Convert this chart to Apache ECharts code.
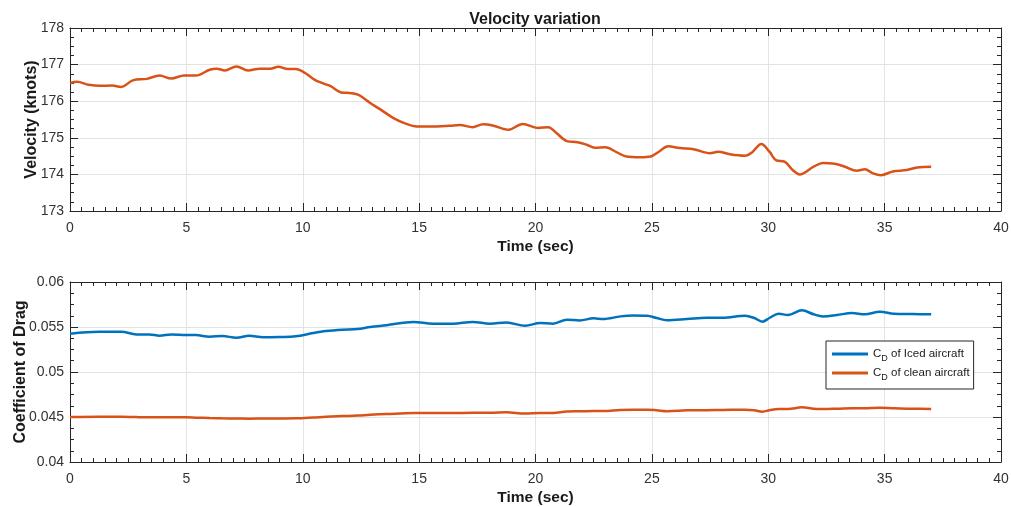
<!DOCTYPE html>
<html>
<head>
<meta charset="utf-8">
<script src="https://cdn.jsdelivr.net/npm/echarts@6/dist/echarts.min.js"></script>
<style>
  html, body { margin: 0; padding: 0; background: #fff; }
  #chart { width: 1011px; height: 507px; }
</style>
</head>
<body>
<div id="chart"></div>
<script>
// Velocity time history (sec, knots)
const velTime = [0, 0.3, 0.8, 1.3, 1.8, 2.2, 2.7, 3.3, 3.85, 4.35, 4.9, 5.4, 6.0, 6.3, 6.65, 7.15, 7.65, 8.15, 8.6, 8.95,
  9.35, 9.7, 10.1, 10.5, 10.9, 11.2, 11.65, 12.1, 12.4, 12.9, 13.3, 13.9, 14.45, 14.9, 15.6, 16.3, 16.75, 17.3, 17.75, 18.2,
  18.85, 19.45, 20.1, 20.55, 20.9, 21.35, 21.8, 22.2, 22.55, 23.0, 23.5, 23.9, 24.5, 24.95, 25.3, 25.7, 26.2, 26.8, 27.5, 27.85,
  28.35, 29.0, 29.3, 29.7, 30.05, 30.35, 30.7, 31.05, 31.35, 31.95, 32.35, 32.85, 33.3, 33.8, 34.15, 34.5, 34.85, 35.35, 35.95, 36.4, 37.0];
const velocity = [176.50, 176.53, 176.45, 176.42, 176.43, 176.39, 176.57, 176.61, 176.70, 176.62, 176.70, 176.70, 176.86, 176.89, 176.84, 176.95, 176.84, 176.89, 176.89, 176.94,
  176.88, 176.88, 176.77, 176.59, 176.48, 176.41, 176.24, 176.22, 176.17, 175.95, 175.79, 175.54, 175.38, 175.31, 175.31, 175.33, 175.35, 175.29, 175.37, 175.33,
  175.22, 175.38, 175.27, 175.29, 175.13, 174.91, 174.88, 174.81, 174.73, 174.74, 174.60, 174.49, 174.47, 174.49, 174.62, 174.77, 174.72, 174.69, 174.58, 174.62,
  174.55, 174.51, 174.60, 174.83, 174.62, 174.38, 174.35, 174.12, 174.00, 174.21, 174.31, 174.29, 174.21, 174.10, 174.14, 174.03, 173.98, 174.08, 174.12, 174.19, 174.21];

// Drag coefficient time history
const cdTime = [0, 1.25, 2.2, 2.85, 3.4, 3.85, 4.35, 5.0, 5.4, 6.0, 6.55, 7.15, 7.7, 8.3, 9.0, 9.7, 10.45, 11.0, 11.7, 12.35,
  12.9, 13.6, 14.75, 15.6, 16.45, 17.3, 18.05, 18.75, 19.55, 20.2, 20.75, 21.35, 21.9, 22.5, 22.9, 23.65, 24.2, 24.8, 25.2, 25.65,
  26.5, 27.35, 28.05, 29.0, 29.4, 29.75, 30.05, 30.45, 30.85, 31.45, 31.95, 32.35, 32.95, 33.6, 34.15, 34.8, 35.4, 36.2, 37.0];
const cdIced = [0.05426, 0.05448, 0.05448, 0.05418, 0.05418, 0.05403, 0.05418, 0.05410, 0.05410, 0.05392, 0.05400, 0.05381, 0.05403, 0.05385, 0.05388, 0.05396, 0.05433, 0.05455, 0.05470, 0.05477,
  0.05500, 0.05520, 0.05556, 0.05537, 0.05537, 0.05556, 0.05537, 0.05550, 0.05514, 0.05544, 0.05537, 0.05581, 0.05573, 0.05596, 0.05588, 0.05618, 0.05629, 0.05626, 0.05600, 0.05575,
  0.05588, 0.05603, 0.05603, 0.05626, 0.05600, 0.05559, 0.05600, 0.05648, 0.05633, 0.05685, 0.05641, 0.05618, 0.05633, 0.05655, 0.05641, 0.05670, 0.05648, 0.05644, 0.05641];
const cdClean = [0.04500, 0.04503, 0.04503, 0.04499, 0.04497, 0.04497, 0.04497, 0.04497, 0.04493, 0.04488, 0.04485, 0.04483, 0.04481, 0.04483, 0.04484, 0.04485, 0.04494, 0.04503, 0.04510, 0.04516,
  0.04525, 0.04533, 0.04544, 0.04544, 0.04544, 0.04546, 0.04546, 0.04552, 0.04538, 0.04544, 0.04544, 0.04561, 0.04563, 0.04566, 0.04566, 0.04578, 0.04581, 0.04581, 0.04575, 0.04565,
  0.04574, 0.04576, 0.04578, 0.04581, 0.04575, 0.04559, 0.04575, 0.04589, 0.04589, 0.04607, 0.04592, 0.04589, 0.04592, 0.04597, 0.04598, 0.04603, 0.04596, 0.04592, 0.04589];

const seriesNames = ['CD of Iced aircraft', 'CD of clean aircraft'];
const colors = { blue: '#0072BD', orange: '#D95319' };

const FONT = '"Liberation Sans", Arial, sans-serif';
const AX = '#262626';
const pair = (xs, ys) => xs.map((x, i) => [x, ys[i]]);

// Box axis helper: ticks pointing inward on every side, labels only on left/bottom
function xAx(gridIndex, top, name) {
  return {
    type: 'value', gridIndex, position: top ? 'top' : 'bottom',
    min: 0, max: 40, interval: 5,
    name: top ? '' : name, nameLocation: 'middle', nameGap: 28, nameMoveOverlap: false,
    nameTextStyle: { fontFamily: FONT, fontSize: 15.5, fontWeight: 'bold', color: '#1a1a1a' },
    axisLine: { show: true, onZero: false, lineStyle: { color: AX, width: 1 } },
    axisTick: { show: true, inside: true, length: 8, lineStyle: { color: AX } },
    minorTick: { show: true, splitNumber: 10, length: 4, lineStyle: { color: AX } },
    axisLabel: { show: !top, margin: 10, fontFamily: FONT, fontSize: 14, color: '#333' },
    splitLine: { show: !top, lineStyle: { color: '#e3e3e3', width: 1 } }
  };
}
function yAx(gridIndex, right, min, max, interval, name, nameGap, fmt) {
  return {
    type: 'value', gridIndex, position: right ? 'right' : 'left',
    min, max, interval,
    name: right ? '' : name, nameLocation: 'middle', nameGap, nameMoveOverlap: false,
    nameTextStyle: { fontFamily: FONT, fontSize: 16, fontWeight: 'bold', color: '#1a1a1a' },
    axisLine: { show: true, onZero: false, lineStyle: { color: AX, width: 1 } },
    axisTick: { show: true, inside: true, length: 8, lineStyle: { color: AX } },
    minorTick: { show: true, splitNumber: 4, length: 4, lineStyle: { color: AX } },
    axisLabel: { show: !right, margin: 6, fontFamily: FONT, fontSize: 14, color: '#333', formatter: fmt },
    splitLine: { show: !right, lineStyle: { color: '#e3e3e3', width: 1 } }
  };
}

const chart = echarts.init(document.getElementById('chart'), null, { renderer: 'canvas' });
chart.setOption({
  backgroundColor: '#ffffff',
  animation: false,
  title: {
    text: 'Velocity variation', left: 530, top: 7, textAlign: 'center',
    textStyle: { fontFamily: FONT, fontSize: 16, fontWeight: 'bold', color: '#1a1a1a' }
  },
  grid: [
    { left: 70, top: 28, width: 931, height: 183, outerBoundsMode: 'none', containLabel: false },
    { left: 70, top: 282, width: 931, height: 180, outerBoundsMode: 'none', containLabel: false }
  ],
  xAxis: [
    xAx(0, false, 'Time (sec)'), xAx(0, true),
    xAx(1, false, 'Time (sec)'), xAx(1, true)
  ],
  yAxis: [
    yAx(0, false, 173, 178, 1, 'Velocity (knots)', 30),
    yAx(0, true, 173, 178, 1),
    yAx(1, false, 0.04, 0.06, 0.005, 'Coefficient of Drag', 41, v => String(+v.toFixed(3))),
    yAx(1, true, 0.04, 0.06, 0.005)
  ],
  legend: {
    data: seriesNames,
    orient: 'vertical',
    left: 826, top: 341,
    padding: [7, 4, 7, 6],
    itemGap: 4,
    itemWidth: 36, itemHeight: 3,
    icon: 'rect',
    backgroundColor: '#ffffff',
    borderColor: AX, borderWidth: 1, borderRadius: 0,
    formatter: n => '{n|C}{s|D}{n|' + n.slice(2) + '}',
    textStyle: {
      rich: {
        n: { fontFamily: FONT, fontSize: 11.5, color: '#1a1a1a', lineHeight: 18, verticalAlign: 'middle' },
        s: { fontFamily: FONT, fontSize: 9, color: '#1a1a1a', lineHeight: 18, verticalAlign: 'bottom' }
      }
    }
  },
  series: [
    {
      name: 'Velocity', type: 'line', xAxisIndex: 0, yAxisIndex: 0,
      data: pair(velTime, velocity), smooth: 0.35, showSymbol: false, symbol: 'none',
      lineStyle: { color: colors.orange, width: 2.5 }, itemStyle: { color: colors.orange }
    },
    {
      name: seriesNames[0], type: 'line', xAxisIndex: 2, yAxisIndex: 2,
      data: pair(cdTime, cdIced), smooth: 0.35, showSymbol: false, symbol: 'none',
      lineStyle: { color: colors.blue, width: 2.5 }, itemStyle: { color: colors.blue }
    },
    {
      name: seriesNames[1], type: 'line', xAxisIndex: 2, yAxisIndex: 2,
      data: pair(cdTime, cdClean), smooth: 0.35, showSymbol: false, symbol: 'none',
      lineStyle: { color: colors.orange, width: 2.5 }, itemStyle: { color: colors.orange }
    }
  ]
});
</script>
</body>
</html>
